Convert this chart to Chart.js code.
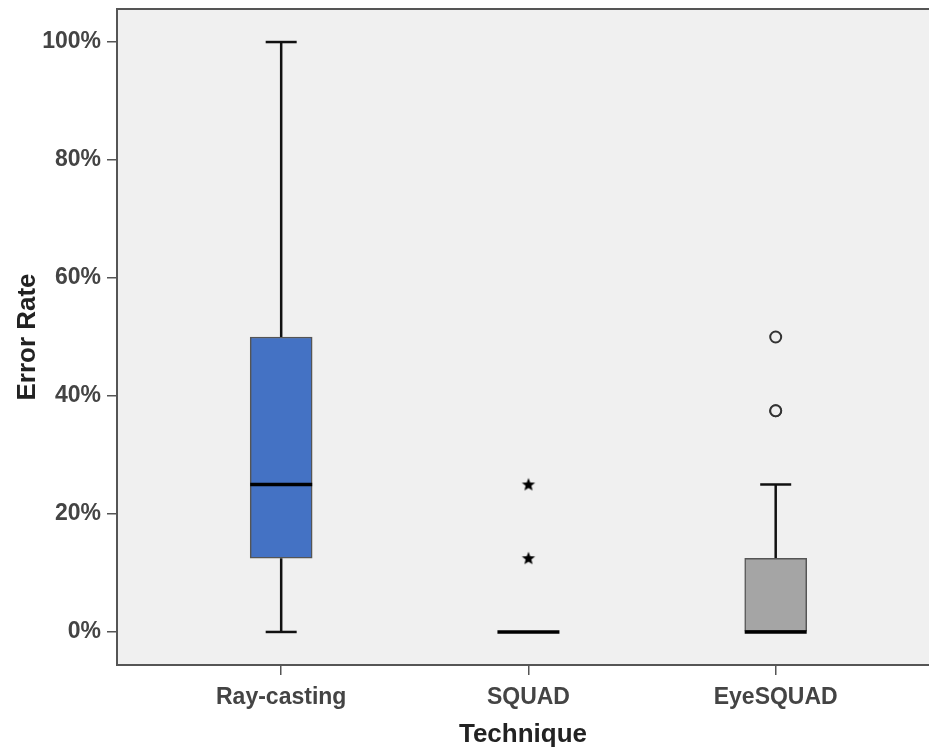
<!DOCTYPE html>
<html>
<head>
<meta charset="utf-8">
<script src="https://cdn.jsdelivr.net/npm/chart.js@4"></script>
<style>
    html, body { margin: 0; padding: 0; background: #ffffff; }
    canvas { display: block; }
</style>
</head>
<body>
<canvas id="errorChart" width="929" height="751"></canvas>
<script>
// box plot data (percent)
const categories = ['Ray-casting', 'SQUAD', 'EyeSQUAD'];
const whiskerLow = [0, 0, 0];
const q1 = [12.5, 0, 0];
const medians = [25, 0, 0];
const q3 = [50, 0, 12.5];
const whiskerHigh = [100, 0, 25];
const boxColors = ['#4472c4', '#a5a5a5', '#a5a5a5'];
const extremes = [[], [12.5, 25], []];      // stars
const outliers = [[], [], [37.5, 37.5, 50]]; // circles
const yTicks = [0, 20, 40, 60, 80, 100];

function makeStar() {
    const c = document.createElement('canvas');
    c.width = 16;
    c.height = 16;
    const ctx = c.getContext('2d');
    ctx.beginPath();
    for (let k = 0; k < 10; k++) {
        const r = k % 2 === 0 ? 7 : 3;
        const a = -Math.PI / 2 + k * Math.PI / 5;
        const px = 8 + r * Math.cos(a);
        const py = 8.4 + r * Math.sin(a);
        if (k === 0) ctx.moveTo(px, py); else ctx.lineTo(px, py);
    }
    ctx.closePath();
    ctx.fillStyle = '#000';
    ctx.fill();
    return c;
}

const whiskerPts = [];
const capPts = [];
categories.forEach((c, i) => {
    if (whiskerLow[i] < q1[i]) {
        whiskerPts.push({x: i, y: whiskerLow[i]}, {x: i, y: q1[i]}, {x: i, y: null});
        capPts.push({x: i, y: whiskerLow[i]});
    }
    if (whiskerHigh[i] > q3[i]) {
        whiskerPts.push({x: i, y: q3[i]}, {x: i, y: whiskerHigh[i]}, {x: i, y: null});
        capPts.push({x: i, y: whiskerHigh[i]});
    }
});

const starPts = [];
extremes.forEach((arr, i) => arr.forEach(v => starPts.push({x: i, y: v})));
const circlePts = [];
outliers.forEach((arr, i) => arr.forEach(v => circlePts.push({x: i, y: v})));

const plotFrame = {
    id: 'plotFrame',
    beforeDraw(chart) {
        const {ctx, chartArea} = chart;
        ctx.save();
        ctx.fillStyle = '#f0f0f0';
        ctx.fillRect(chartArea.left, chartArea.top, chartArea.right - chartArea.left, chartArea.bottom - chartArea.top);
        ctx.restore();
    },
    afterDraw(chart) {
        const {ctx, chartArea} = chart;
        ctx.save();
        ctx.strokeStyle = '#555';
        ctx.lineWidth = 2;
        ctx.beginPath();
        ctx.moveTo(chartArea.left, chartArea.top);
        ctx.lineTo(chartArea.right, chartArea.top);
        ctx.stroke();
        ctx.restore();
    }
};

const tickFont = {family: '"Liberation Sans", Arial, sans-serif', size: 23, weight: 'bold'};
const titleFont = {family: '"Liberation Sans", Arial, sans-serif', size: 26, weight: 'bold'};

new Chart(document.getElementById('errorChart'), {
    type: 'bar',
    data: {
        datasets: [
            {
                type: 'line',
                data: whiskerPts,
                borderColor: '#111',
                borderWidth: 2.5,
                pointRadius: 0,
                spanGaps: false,
                order: 3
            },
            {
                type: 'bar',
                data: categories.map((c, i) => ({x: i, y: [q1[i], q3[i]]})),
                backgroundColor: boxColors,
                borderColor: '#555',
                borderWidth: 1.5,
                borderSkipped: false,
                barThickness: 62,
                order: 2
            },
            {
                type: 'scatter',
                data: capPts,
                pointStyle: 'line',
                pointRadius: 15.5,
                borderColor: '#111',
                borderWidth: 2.5,
                order: 1
            },
            {
                type: 'scatter',
                data: categories.map((c, i) => ({x: i, y: medians[i]})),
                pointStyle: 'line',
                pointRadius: 31,
                borderColor: '#000',
                borderWidth: 3.5,
                order: 0
            },
            {
                type: 'scatter',
                data: circlePts,
                pointStyle: 'circle',
                pointRadius: 5.5,
                borderColor: '#333',
                backgroundColor: '#f0f0f0',
                borderWidth: 2,
                order: 0
            },
            {
                type: 'scatter',
                data: starPts,
                pointStyle: makeStar(),
                order: 0
            }
        ]
    },
    options: {
        responsive: false,
        animation: false,
        events: [],
        layout: {autoPadding: false, padding: {top: 9, left: 0, right: 0, bottom: 0}},
        plugins: {
            legend: {display: false},
            tooltip: {enabled: false}
        },
        scales: {
            x: {
                type: 'linear',
                offset: false,
                min: -0.664,
                max: 2.62,
                afterBuildTicks: s => { s.ticks = categories.map((c, i) => ({value: i})); },
                afterFit: s => { s.height = 86; s.paddingLeft = 0; s.paddingRight = 0; },
                ticks: {
                    callback: v => categories[v],
                    font: tickFont,
                    color: '#444',
                    padding: 9,
                    maxRotation: 0,
                    autoSkip: false
                },
                grid: {offset: false, drawOnChartArea: false, drawTicks: true, tickLength: 10, color: '#555', lineWidth: 1.5},
                border: {color: '#555', width: 2},
                title: {display: true, text: 'Technique', font: titleFont, color: '#222', padding: {top: 0, bottom: 1}}
            },
            y: {
                min: -5.6,
                max: 105.6,
                afterBuildTicks: s => { s.ticks = yTicks.map(v => ({value: v})); },
                afterFit: s => { s.width = 117; s.paddingTop = 0; s.paddingBottom = 0; },
                ticks: {
                    callback: v => v + '%',
                    font: tickFont,
                    color: '#444',
                    padding: 6
                },
                grid: {drawOnChartArea: false, drawTicks: true, tickLength: 10, color: '#555', lineWidth: 1.5},
                border: {color: '#555', width: 2},
                title: {display: true, text: 'Error Rate', font: titleFont, color: '#222', padding: {top: 12, bottom: 0}}
            }
        }
    },
    plugins: [plotFrame]
});
</script>
</body>
</html>
